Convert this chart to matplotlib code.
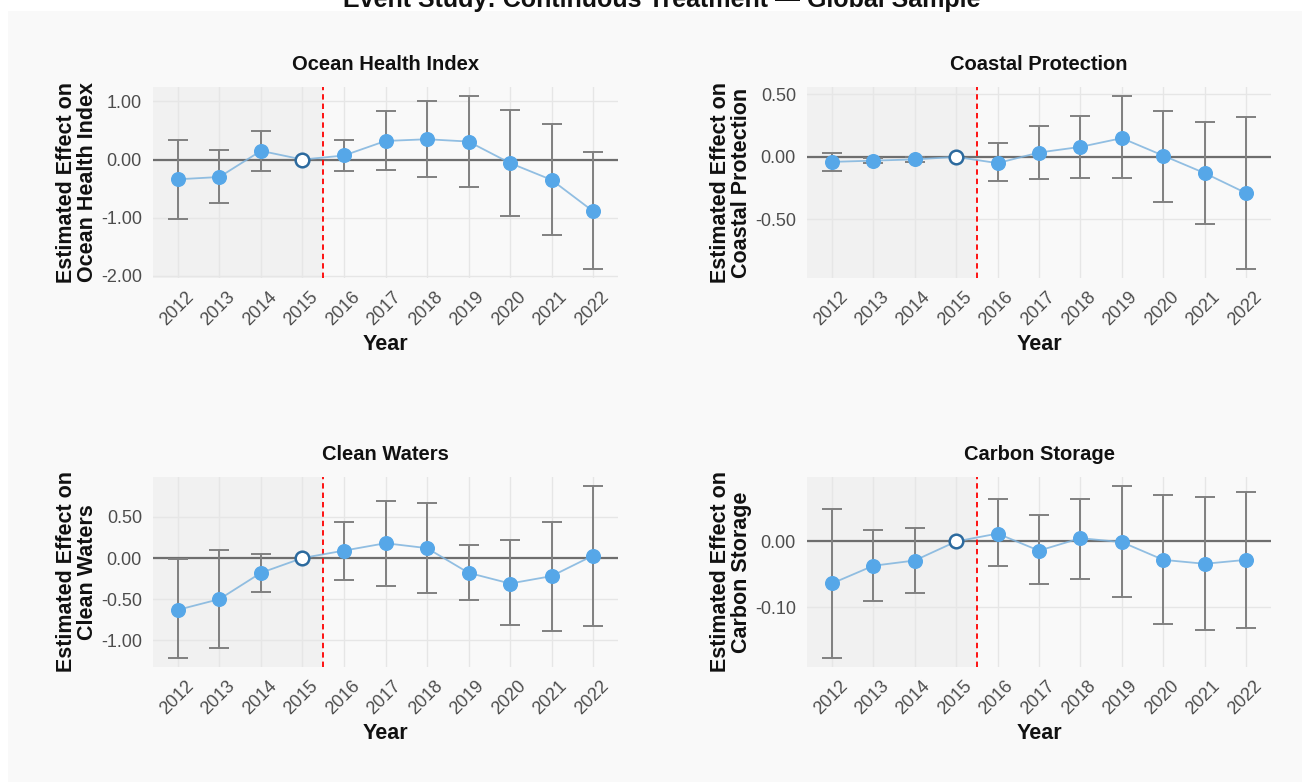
import numpy as np
import matplotlib
matplotlib.use("Agg")
import matplotlib.pyplot as plt
import matplotlib.transforms as mtransforms
from matplotlib.patches import Rectangle

plt.rcParams["font.family"] = ["Liberation Sans", "DejaVu Sans"]
plt.rcParams["axes.unicode_minus"] = False

years = [2012, 2013, 2014, 2015, 2016, 2017, 2018, 2019, 2020, 2021, 2022]
ref_year = 2015

# Ocean Health Index
ohi_est = [-0.34, -0.30, 0.15, 0.0, 0.07, 0.32, 0.35, 0.31, -0.06, -0.35, -0.89]
ohi_lo = [-1.02, -0.75, -0.19, np.nan, -0.19, -0.18, -0.30, -0.47, -0.98, -1.30, -1.89]
ohi_hi = [0.33, 0.17, 0.50, np.nan, 0.34, 0.84, 1.01, 1.10, 0.86, 0.62, 0.13]

# Coastal Protection
cp_est = [-0.04, -0.03, -0.02, 0.0, -0.05, 0.035, 0.08, 0.15, 0.01, -0.13, -0.29]
cp_lo = [-0.11, -0.05, -0.04, np.nan, -0.19, -0.18, -0.17, -0.17, -0.36, -0.54, -0.90]
cp_hi = [0.03, -0.01, 0.00, np.nan, 0.11, 0.25, 0.33, 0.49, 0.37, 0.28, 0.32]

# Clean Waters
cw_est = [-0.63, -0.50, -0.18, 0.0, 0.09, 0.18, 0.12, -0.18, -0.31, -0.22, 0.03]
cw_lo = [-1.22, -1.09, -0.41, np.nan, -0.27, -0.34, -0.42, -0.51, -0.82, -0.89, -0.83]
cw_hi = [-0.01, 0.10, 0.05, np.nan, 0.44, 0.69, 0.67, 0.16, 0.22, 0.44, 0.88]

# Carbon Storage
cs_est = [-0.064, -0.037, -0.029, 0.0, 0.012, -0.014, 0.005, -0.001, -0.028, -0.034, -0.028]
cs_lo = [-0.178, -0.091, -0.078, np.nan, -0.038, -0.065, -0.057, -0.085, -0.126, -0.135, -0.132]
cs_hi = [0.050, 0.017, 0.020, np.nan, 0.064, 0.040, 0.065, 0.085, 0.070, 0.068, 0.075]

panels = [
    ("Ocean Health Index", ohi_est, ohi_lo, ohi_hi, [-2, -1, 0, 1]),
    ("Coastal Protection", cp_est, cp_lo, cp_hi, [-0.5, 0, 0.5]),
    ("Clean Waters", cw_est, cw_lo, cw_hi, [-1, -0.5, 0, 0.5]),
    ("Carbon Storage", cs_est, cs_lo, cs_hi, [-0.1, 0]),
]

W, H = 1302, 782
fig = plt.figure(figsize=(W / 100, H / 100), dpi=100, facecolor="white")
fig.patches.append(Rectangle((8 / W, 0), 1, 1 - 11 / H, transform=fig.transFigure,
                             facecolor="#f9f9f9", edgecolor="none", zorder=-10))

fig.text(662 / W, 1 - 7 / H, "Event Study: Continuous Treatment \u2014 Global Sample",
         ha="center", va="baseline", fontsize=18, fontweight="bold", color="#111111")

# axes boxes in pixels: left, top, right, bottom
boxes = [(153, 87, 618, 278), (807, 87, 1271, 278),
         (153, 477, 618, 667), (807, 477, 1271, 667)]

blue = "#56a7e8"
for (name, est, lo, hi, ticks), (l, t, r, b) in zip(panels, boxes):
    ax = fig.add_axes([l / W, 1 - b / H, (r - l) / W, (b - t) / H])
    ax.set_facecolor("none")
    yrs = np.array(years)
    est = np.array(est)
    lo = np.array(lo)
    hi = np.array(hi)

    ymin, ymax = np.nanmin(lo), np.nanmax(hi)
    pad = 0.05 * (ymax - ymin)
    ax.set_ylim(ymin - pad, ymax + pad)
    ax.set_xlim(years[0] - 0.6, years[-1] + 0.6)

    ax.axvspan(years[0] - 0.6, ref_year + 0.5, color="#f1f1f1", zorder=0, lw=0)
    ax.set_axisbelow(True)
    ax.grid(True, color="#e6e6e6", lw=1.0)
    ax.axhline(0, color="#6e6e6e", lw=1.6, zorder=1)
    ax.axvline(ref_year + 0.5, color="red", lw=1.3, ls=(0, (3, 2.2)), zorder=2)

    m = ~np.isnan(lo)
    ax.errorbar(yrs[m], est[m], yerr=[est[m] - lo[m], hi[m] - est[m]], fmt="none",
                ecolor="#808080", elinewidth=1.4, capsize=7, capthick=1.4, zorder=3)
    ax.plot(yrs, est, color="#7fb4de", lw=1.3, alpha=0.85, zorder=4)
    pre = yrs != ref_year
    ax.plot(yrs[pre], est[pre], "o", color=blue, ms=9.8, mec=blue, zorder=5)
    ax.plot(yrs[~pre], est[~pre], "o", mfc="white", mec="#2c6a9e", ms=9.8, mew=1.8, zorder=6)

    ax.set_xticks(years)
    ax.set_xticklabels([str(y) for y in years], rotation=45, ha="right",
                       va="top", rotation_mode="anchor")
    ax.set_yticks(ticks)
    ax.set_yticklabels([f"{v:.2f}" for v in ticks])
    ax.tick_params(length=0, labelsize=13, labelcolor="#4d4d4d", pad=8)
    ax.tick_params(axis="x", pad=6)
    # nudge the slanted year labels right/down
    shift = mtransforms.ScaledTranslation(7 / 100, -2 / 100, fig.dpi_scale_trans)
    for lab in ax.get_xticklabels():
        lab.set_transform(lab.get_transform() + shift)
    for s in ax.spines.values():
        s.set_visible(False)

    ax.set_ylabel(f"Estimated Effect on\n{name}", fontsize=15.5, fontweight="bold",
                  color="#111111", linespacing=1.0)
    ax.yaxis.set_label_coords(-0.118, 0.5)
    ax.set_xlabel("Year", fontsize=15.5, fontweight="bold", color="#111111")
    ax.xaxis.set_label_coords(0.5, -0.35)
    ax.xaxis.label.set_va("center")
    ax.text(0.5, 1 + 22 / (b - t), name, transform=ax.transAxes, ha="center",
            va="center", fontsize=14.5, fontweight="bold", color="#111111")

fig.savefig("out.png", dpi=100, facecolor=fig.get_facecolor())
